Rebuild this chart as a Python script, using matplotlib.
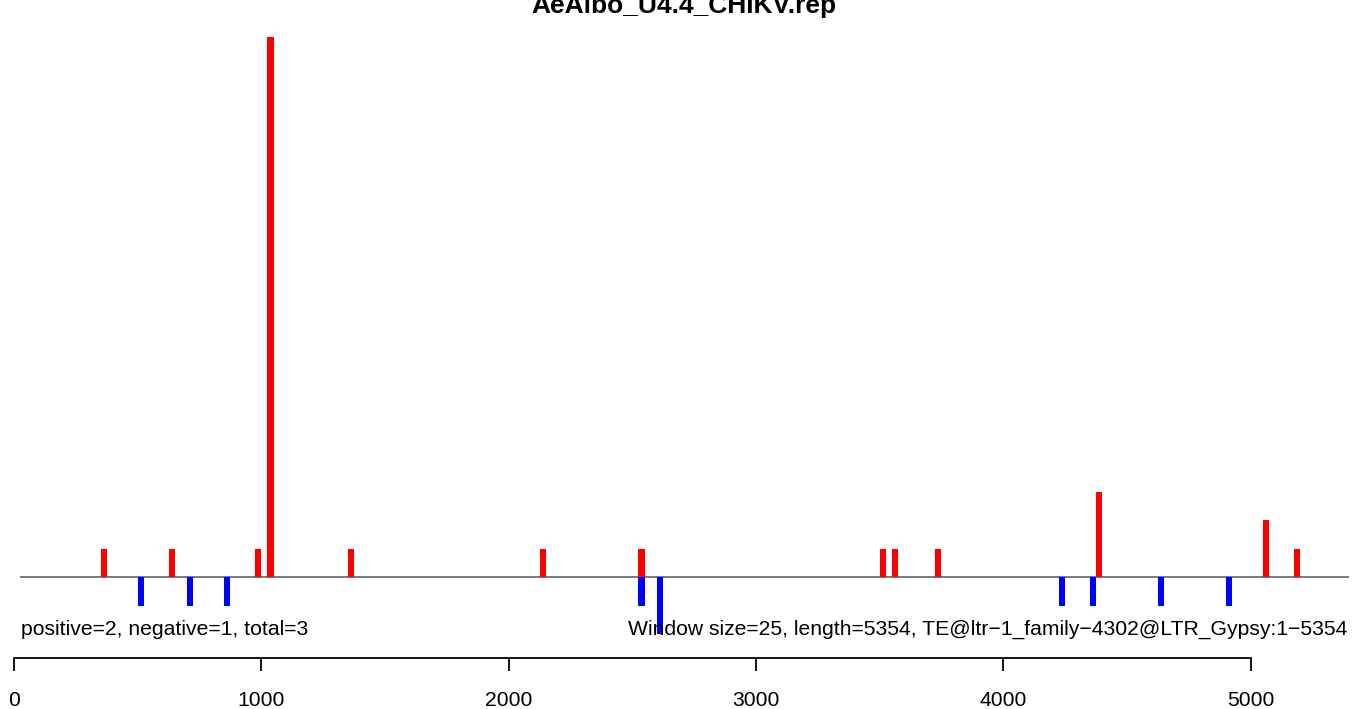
import matplotlib
matplotlib.use('Agg')
import matplotlib.pyplot as plt

plt.rcParams['font.family'] = ['Liberation Sans', 'DejaVu Sans']

# window starts (window size 25) and counts
pos_start = [350, 625, 975, 1025, 1350, 2125, 2525, 3500, 3550, 3725, 4375, 5050, 5175]
pos_count = [1, 1, 1, 19, 1, 1, 1, 1, 1, 1, 3, 2, 1]
neg_start = [500, 700, 850, 2525, 2600, 4225, 4350, 4625, 4900]
neg_count = [-1, -1, -1, -1, -2, -1, -1, -1, -1]
window = 25
length = 5354
xticks = [0, 1000, 2000, 3000, 4000, 5000]

title = 'AeAlbo_U4.4_CHIKV.rep'
left_note = 'positive=2, negative=1, total=3'
right_note = 'Window size=25, length=5354, TE@ltr\u22121_family\u22124302@LTR_Gypsy:1\u22125354'

W, H = 1353, 709
fig = plt.figure(figsize=(W / 100, H / 100), dpi=100)
ax = fig.add_axes([14 / W, 1 - 658 / H, 1336 / W, 645 / H])

ax.bar(pos_start, pos_count, width=window, align='edge', color='#ff0000', linewidth=0, zorder=2)
ax.bar(neg_start, neg_count, width=window, align='edge', color='#0000ff', linewidth=0, zorder=2)
ax.hlines(0, 24, 5398, color='#555555', linewidth=1.1, zorder=1)

# R-style 4% padding around (-2, 19)
ax.set_xlim(0, 5402)
ax.set_ylim(-2.84, 19.84)

ax.text(28, -2.03, left_note, ha='left', va='baseline', fontsize=15.2)
ax.text(5393, -2.03, right_note, ha='right', va='baseline', fontsize=15.2)

for s in ['top', 'right', 'left']:
    ax.spines[s].set_visible(False)
ax.spines['bottom'].set_bounds(0, 5000)
ax.spines['bottom'].set_linewidth(1.3)
ax.set_yticks([])
ax.set_xticks(xticks)
ax.set_xticklabels([str(t) for t in xticks])
ax.tick_params(axis='x', length=9.5, width=1.3, pad=14, labelsize=15.2)

# title sits partly above the figure edge, as in the original
fig.text(684 / W, 1 - 13 / H, title, ha='center', va='baseline',
         fontsize=19, fontweight='bold')

fig.savefig('out.png', dpi=100)
